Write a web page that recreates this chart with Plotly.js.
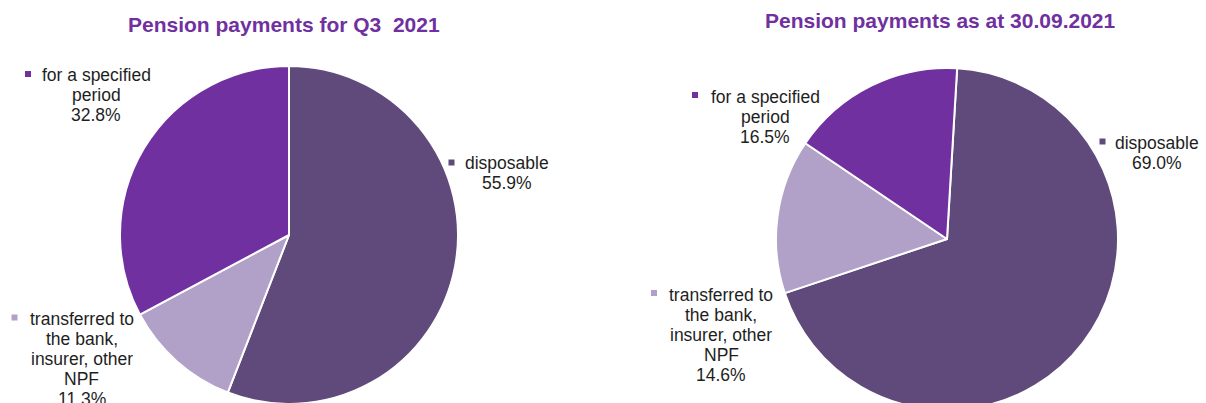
<!DOCTYPE html>
<html>
<head>
<meta charset="utf-8">
<script src="https://cdn.plot.ly/plotly-3.0.1.min.js"></script>
<style>
html,body{margin:0;padding:0;overflow:hidden;background:#fff;width:1206px;height:403px;}
#chart{width:1206px;height:430px;}
</style>
</head>
<body>
<div id="chart"></div>
<script>
// ---- data ----
const categories = ["disposable", "transferred to<br>the bank,<br>insurer, other<br>NPF", "for a specified<br>period"];
const sliceColors = ["#604A7B", "#B1A0C7", "#7030A0"];
const valuesQ3 = [55.9, 11.3, 32.8];
const valuesSep30 = [69.0, 14.6, 16.5];
const titleQ3 = "Pension payments for Q3&nbsp; 2021";
const titleSep30 = "Pension payments as at 30.09.2021";

// ---- layout helpers (pixel placement only) ----
const W = 1206, H = 430;
const px = x => x / W;
const py = y => (H - y) / H;
const FONT = "Liberation Sans, Arial, sans-serif";
const TEXT_COLOR = "#1e1e1e";
const LINE_STEP = 20;

// label placements per chart: [centerX, firstLineY, markerX, markerY]
const placeQ3 = [[507, 163, 451.5, 162.5], [81.5, 319, 14.5, 317.5], [96, 75, 28, 74]];
const placeSep30 = [[1157, 143.3, 1102.5, 141.5], [721, 294.5, 654, 293], [765, 96.7, 695, 95]];

const annotations = [];
const shapes = [];

function addLabels(values, place) {
  categories.forEach((name, i) => {
    const lines = name.split("<br>").concat([values[i].toFixed(1) + "%"]);
    const [cx, y0, mx, my] = place[i];
    lines.forEach((ln, k) => {
      annotations.push({
        xref: "paper", yref: "paper",
        x: px(cx), y: py(y0 + k * LINE_STEP),
        xanchor: "center", yanchor: "middle",
        text: ln, showarrow: false,
        font: {family: FONT, size: 17.5, color: TEXT_COLOR}
      });
    });
    shapes.push({
      type: "rect", xref: "paper", yref: "paper",
      x0: px(mx - 3), x1: px(mx + 3), y0: py(my + 3), y1: py(my - 3),
      fillcolor: sliceColors[i], line: {width: 0}
    });
  });
}
addLabels(valuesQ3, placeQ3);
addLabels(valuesSep30, placeSep30);

annotations.push({
  xref: "paper", yref: "paper", x: px(284), y: py(24),
  xanchor: "center", yanchor: "middle", showarrow: false,
  text: "<b>" + titleQ3 + "</b>",
  font: {family: FONT, size: 21, color: "#7030A0"}
});
annotations.push({
  xref: "paper", yref: "paper", x: px(941), y: py(20.7),
  xanchor: "center", yanchor: "middle", showarrow: false,
  text: "<b>" + titleSep30 + "</b>",
  font: {family: FONT, size: 21, color: "#7030A0"}
});

const pieCommon = {
  type: "pie", labels: categories, sort: false, direction: "clockwise",
  marker: {colors: sliceColors, line: {color: "#ffffff", width: 2}},
  textinfo: "none", showlegend: false, hoverinfo: "label+percent"
};

const data = [
  Object.assign({}, pieCommon, {
    values: valuesQ3, rotation: 0,
    domain: {x: [px(120), px(458)], y: [py(404), py(66)]}
  }),
  Object.assign({}, pieCommon, {
    values: valuesSep30, rotation: 3.4,
    domain: {x: [px(776), px(1118)], y: [py(410), py(68)]}
  })
];

const layout = {
  width: W, height: H,
  margin: {l: 0, r: 0, t: 0, b: 0, pad: 0},
  paper_bgcolor: "#ffffff", plot_bgcolor: "#ffffff",
  showlegend: false,
  annotations: annotations,
  shapes: shapes,
  font: {family: FONT}
};

Plotly.newPlot("chart", data, layout, {staticPlot: true, displayModeBar: false});
</script>
</body>
</html>
